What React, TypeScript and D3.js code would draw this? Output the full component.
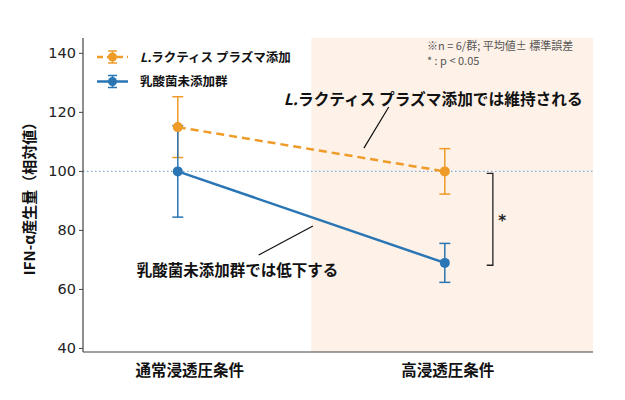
import React from 'react'
import * as d3 from 'd3'

const categories = ['通常浸透圧条件', '高浸透圧条件']
const plasmaMean = [115, 100]
const plasmaErr = [10.3, 7.7]
const controlMean = [100, 69]
const controlErr = [15.5, 6.6]
const yTicks = [40, 60, 80, 100, 120, 140]

const seriesNames = ['L.ラクティス プラズマ添加', '乳酸菌未添加群']
const noteLines = ['※n = 6/群; 平均値± 標準誤差', '* : p < 0.05']
const annoPlasma = 'ラクティス プラズマ添加では維持される'
const annoControl = '乳酸菌未添加群では低下する'

const ORANGE = '#EE9B28'
const BLUE = '#2A76B4'
const SHADE = '#FDF1E8'
const JP = "'Noto Sans CJK JP', 'Noto Sans', sans-serif"
const NUM = "'DejaVu Sans', sans-serif"

const W = 625
const H = 400
const plot = { left: 83, right: 593, top: 38, bottom: 352 }

export default function App() {
  const x = d3.scaleLinear().domain([-0.355, 1.555]).range([plot.left, plot.right])
  const y = d3.scaleLinear().domain([38.8, 145.2]).range([plot.bottom, plot.top])
  const line = d3.line<number>().x((_, i) => x(i)).y(d => y(d))

  const errBars = (means: number[], errs: number[], color: string) =>
    means.map((m, i) => {
      const cx = x(i)
      const y0 = y(m - errs[i])
      const y1 = y(m + errs[i])
      return (
        <g key={i} stroke={color} strokeWidth={1.5}>
          <line x1={cx} x2={cx} y1={y0} y2={y1} />
          <line x1={cx - 5.5} x2={cx + 5.5} y1={y0} y2={y0} />
          <line x1={cx - 5.5} x2={cx + 5.5} y1={y1} y2={y1} />
        </g>
      )
    })

  const legendHandle = (cy: number, color: string, dashed: boolean) => (
    <g>
      <line x1={97} x2={128} y1={cy} y2={cy} stroke={color} strokeWidth={2.5}
        strokeDasharray={dashed ? '6,4' : undefined} />
      <g stroke={color} strokeWidth={1.5}>
        <line x1={112.5} x2={112.5} y1={cy - 6} y2={cy + 6} />
        <line x1={108} x2={117} y1={cy - 6} y2={cy - 6} />
        <line x1={108} x2={117} y1={cy + 6} y2={cy + 6} />
      </g>
      <circle cx={112.5} cy={cy} r={4.5} fill={color} />
    </g>
  )

  return (
    <svg width={W} height={H} style={{ position: 'absolute', left: 0, top: 0, background: '#fff' }}>
      {/* shaded high-osmotic region */}
      <rect x={x(0.5)} y={plot.top} width={plot.right - x(0.5)} height={plot.bottom - plot.top} fill={SHADE} />

      {/* reference line at 100 */}
      <line x1={plot.left} x2={plot.right} y1={y(100)} y2={y(100)} stroke="#7FAED6" strokeWidth={1.1} strokeDasharray="1.5,2.5" />

      {/* series */}
      <path d={line(plasmaMean) || ''} fill="none" stroke={ORANGE} strokeWidth={2.5} strokeDasharray="8,5" />
      <path d={line(controlMean) || ''} fill="none" stroke={BLUE} strokeWidth={2.5} />
      {errBars(plasmaMean, plasmaErr, ORANGE)}
      {errBars(controlMean, controlErr, BLUE)}
      {plasmaMean.map((m, i) => <circle key={'p' + i} cx={x(i)} cy={y(m)} r={5} fill={ORANGE} />)}
      {controlMean.map((m, i) => <circle key={'c' + i} cx={x(i)} cy={y(m)} r={5} fill={BLUE} />)}

      {/* significance bracket */}
      <path d={`M${x(1.157)},${y(99.3)}H${x(1.18)}V${y(68.2)}H${x(1.157)}`} fill="none" stroke="#222" strokeWidth={1.3} />
      <text x={x(1.215)} y={y(84) + 7} fontFamily={NUM} fontSize={15} fontWeight="bold" textAnchor="middle" fill="#222">*</text>

      {/* annotations */}
      <line x1={x(0.697)} y1={y(107.9)} x2={x(0.79)} y2={y(121.8)} stroke="#111" strokeWidth={1.2} />
      <text x={x(0.397)} y={y(122.6)} fontFamily={JP} fontSize={15.7} fontWeight="bold" fill="#111">
        <tspan fontStyle="italic">L.</tspan>{annoPlasma}
      </text>
      <line x1={x(0.303)} y1={y(71.7)} x2={x(0.506)} y2={y(81.5)} stroke="#111" strokeWidth={1.2} />
      <text x={x(-0.154)} y={y(64.6)} fontFamily={JP} fontSize={15.5} fontWeight="bold" fill="#111">{annoControl}</text>

      {/* note */}
      {noteLines.map((t, i) => (
        <text key={i} x={427} y={50 + i * 15} fontFamily={JP} fontSize={11} fill="#555">{t}</text>
      ))}

      {/* legend */}
      {legendHandle(57, ORANGE, true)}
      <text x={140} y={62} fontFamily={JP} fontSize={12.5} fontWeight="bold" fill="#111">
        <tspan fontStyle="italic">L.</tspan>{seriesNames[0].slice(2)}
      </text>
      {legendHandle(81.5, BLUE, false)}
      <text x={140} y={86} fontFamily={JP} fontSize={12.5} fontWeight="bold" fill="#111">{seriesNames[1]}</text>

      {/* axes */}
      <line x1={plot.left} x2={plot.left} y1={plot.top} y2={plot.bottom} stroke="#444" strokeWidth={1.2} />
      <line x1={plot.left} x2={plot.right} y1={plot.bottom} y2={plot.bottom} stroke="#444" strokeWidth={1.2} />
      {yTicks.map(t => (
        <g key={t}>
          <line x1={plot.left - 4} x2={plot.left} y1={y(t)} y2={y(t)} stroke="#444" strokeWidth={1} />
          <text x={plot.left - 7} y={y(t) + 5} textAnchor="end" fontFamily={NUM} fontSize={14.5} fill="#222">{t}</text>
        </g>
      ))}
      {categories.map((c, i) => (
        <text key={c} x={x(i)} dx={i === 0 ? 12 : 3} y={376} textAnchor="middle" fontFamily={JP} fontSize={15.5} fontWeight="bold" fill="#111">{c}</text>
      ))}
      <text transform={`translate(35,${(plot.top + plot.bottom) / 2}) rotate(-90)`} textAnchor="middle"
        fontFamily={JP} fontSize={15} fontWeight="bold" fill="#111">IFN-α産生量（相対値）</text>
    </svg>
  )
}
